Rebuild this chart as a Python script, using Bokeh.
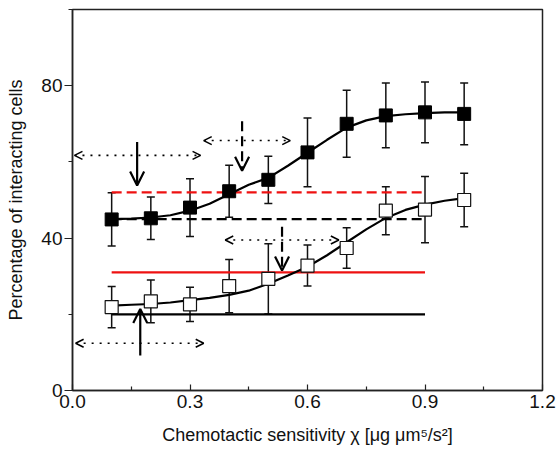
from bokeh.plotting import figure
from bokeh.models import (Range1d, FixedTicker, Whisker, TeeHead, Arrow, OpenHead,
                          ColumnDataSource, PrintfTickFormatter)
from bokeh.embed import file_html
from bokeh.resources import INLINE

# ---------------- data ----------------
chi = [0.1, 0.2, 0.3, 0.4, 0.5, 0.6, 0.7, 0.8, 0.9, 1.0]
filled_pct = [44.9, 45.2, 48.0, 52.3, 55.3, 62.5, 70.0, 72.2, 73.0, 72.6]
filled_err = [7.0, 5.6, 7.6, 6.8, 6.2, 9.0, 8.8, 8.5, 8.0, 8.1]
open_pct = [21.9, 23.4, 22.6, 27.4, 29.3, 32.8, 37.4, 47.2, 47.5, 50.0]
open_err = [5.4, 5.6, 4.5, 7.0, 9.2, 5.4, 5.3, 6.3, 8.7, 7.0]

fit_x = [0.1, 0.15, 0.2, 0.25, 0.3, 0.35, 0.4, 0.45, 0.5, 0.55, 0.6, 0.65, 0.7,
         0.75, 0.8, 0.85, 0.9, 0.95, 1.0]
fit_filled = [45.0, 45.1, 45.4, 46.0, 47.2, 49.0, 51.5, 54.0, 55.8, 59.0, 62.4,
              65.8, 69.0, 70.9, 72.0, 72.5, 72.8, 73.0, 73.0]
fit_open = [22.3, 22.5, 22.7, 23.1, 23.7, 24.3, 25.1, 26.2, 28.0, 30.2, 32.5,
            35.5, 38.9, 42.3, 45.3, 47.4, 48.8, 49.8, 50.5]

# horizontal reference levels (start, end, level)
ref_x0 = [0.1, 0.1, 0.1, 0.1]
ref_x1 = [0.9, 0.9, 0.9, 0.9]
ref_y = [52.0, 45.0, 31.0, 20.0]
ref_color = ["#ee1111", "black", "#ee1111", "black"]
ref_dash = ["10 5", "10 5", "solid", "solid"]

# range arrows (double-headed, dotted)
rng_x0 = [0.005, 0.335, 0.39, 0.008]
rng_x1 = [0.327, 0.556, 0.68, 0.335]
rng_y = [61.7, 65.6, 39.5, 12.4]

# marker arrows (single-headed)
mk_x = [0.165, 0.433, 0.535, 0.173]
mk_y0 = [65.2, 70.7, 43.0, 9.2]
mk_y1 = [53.8, 57.7, 31.5, 21.4]
mk_dash = ["solid", "10 5", "10 5", "solid"]

x_ticks = [0.0, 0.3, 0.6, 0.9, 1.2]
x_minor = [0.15, 0.45, 0.75, 1.05]
y_ticks = [0, 40, 80]
y_minor = [20, 60, 100]

FONT = "Liberation Sans"

p = figure(width=556, height=450, x_range=Range1d(0, 1.2), y_range=Range1d(0, 100),
           output_backend="svg", toolbar_location=None,
           min_border_left=72, min_border_right=14, min_border_top=9, min_border_bottom=60)
p.xgrid.visible = False
p.ygrid.visible = False
p.outline_line_color = "#222222"
p.outline_line_width = 1.5
p.outline_line_alpha = 1.0
p.background_fill_color = "white"

for ax in (p.xaxis[0], p.yaxis[0]):
    ax.axis_line_color = "#222222"
    ax.axis_line_width = 1.5
    ax.major_tick_line_color = "#222222"
    ax.minor_tick_line_color = "#222222"
    ax.major_tick_line_width = 1.2
    ax.minor_tick_line_width = 1.2
    ax.major_label_text_font = FONT
    ax.major_label_text_font_size = "19px"
    ax.major_label_text_color = "#111111"
    ax.axis_label_text_font = FONT
    ax.axis_label_text_font_size = "18px"
    ax.axis_label_text_font_style = "normal"
    ax.axis_label_text_color = "#111111"

p.xaxis.ticker = FixedTicker(ticks=x_ticks, minor_ticks=x_minor)
p.xaxis.formatter = PrintfTickFormatter(format="%.1f")
p.xaxis.major_tick_in = 6
p.xaxis.major_tick_out = 0
p.xaxis.minor_tick_in = 4
p.xaxis.minor_tick_out = 0
p.xaxis.major_label_standoff = 4
p.xaxis.axis_label_standoff = 14
p.xaxis.axis_label = "Chemotactic sensitivity χ [μg μm⁵/s²]"

p.yaxis.ticker = FixedTicker(ticks=y_ticks, minor_ticks=y_minor)
p.yaxis.major_tick_in = 0
p.yaxis.major_tick_out = 8
p.yaxis.minor_tick_in = 0
p.yaxis.minor_tick_out = 4
p.yaxis.major_label_standoff = 2
p.yaxis.axis_label_standoff = 12
p.yaxis.axis_label = "Percentage of interacting cells"

# reference lines
for x0, x1, y, c, d in zip(ref_x0, ref_x1, ref_y, ref_color, ref_dash):
    p.line([x0, x1], [y, y], line_color=c, line_width=2.2, line_dash=d)

# error bars
fsrc = ColumnDataSource(dict(x=chi, y=filled_pct,
                             lo=[v - e for v, e in zip(filled_pct, filled_err)],
                             hi=[v + e for v, e in zip(filled_pct, filled_err)]))
osrc = ColumnDataSource(dict(x=chi, y=open_pct,
                             lo=[v - e for v, e in zip(open_pct, open_err)],
                             hi=[v + e for v, e in zip(open_pct, open_err)]))
for src in (fsrc, osrc):
    w = Whisker(source=src, base="x", lower="lo", upper="hi", level="underlay",
                line_color="#111111", line_width=1.5,
                upper_head=TeeHead(size=8, line_width=1.5, line_color="#111111"),
                lower_head=TeeHead(size=8, line_width=1.5, line_color="#111111"))
    p.add_layout(w)

# fitted curves
p.line(fit_x, fit_filled, line_color="black", line_width=2.2)
p.line(fit_x, fit_open, line_color="black", line_width=2.2)

# markers
p.scatter("x", "y", source=fsrc, marker="square", size=13, fill_color="black",
          line_color="black")
p.scatter("x", "y", source=osrc, marker="square", size=13, fill_color="white",
          line_color="#111111", line_width=1.2)

# range arrows
for x0, x1, y in zip(rng_x0, rng_x1, rng_y):
    p.add_layout(Arrow(x_start=x0, y_start=y, x_end=x1, y_end=y,
                       line_color="black", line_width=1.6, line_dash="2 6",
                       start=OpenHead(size=8, line_width=1.5, line_color="black"),
                       end=OpenHead(size=8, line_width=1.5, line_color="black")))

# marker arrows
for x, y0, y1, d in zip(mk_x, mk_y0, mk_y1, mk_dash):
    p.add_layout(Arrow(x_start=x, y_start=y0, x_end=x, y_end=y1,
                       line_color="black", line_width=2.2, line_dash=d,
                       end=OpenHead(size=14, line_width=2.2, line_color="black")))

open("out.html", "w").write(file_html(p, INLINE))
